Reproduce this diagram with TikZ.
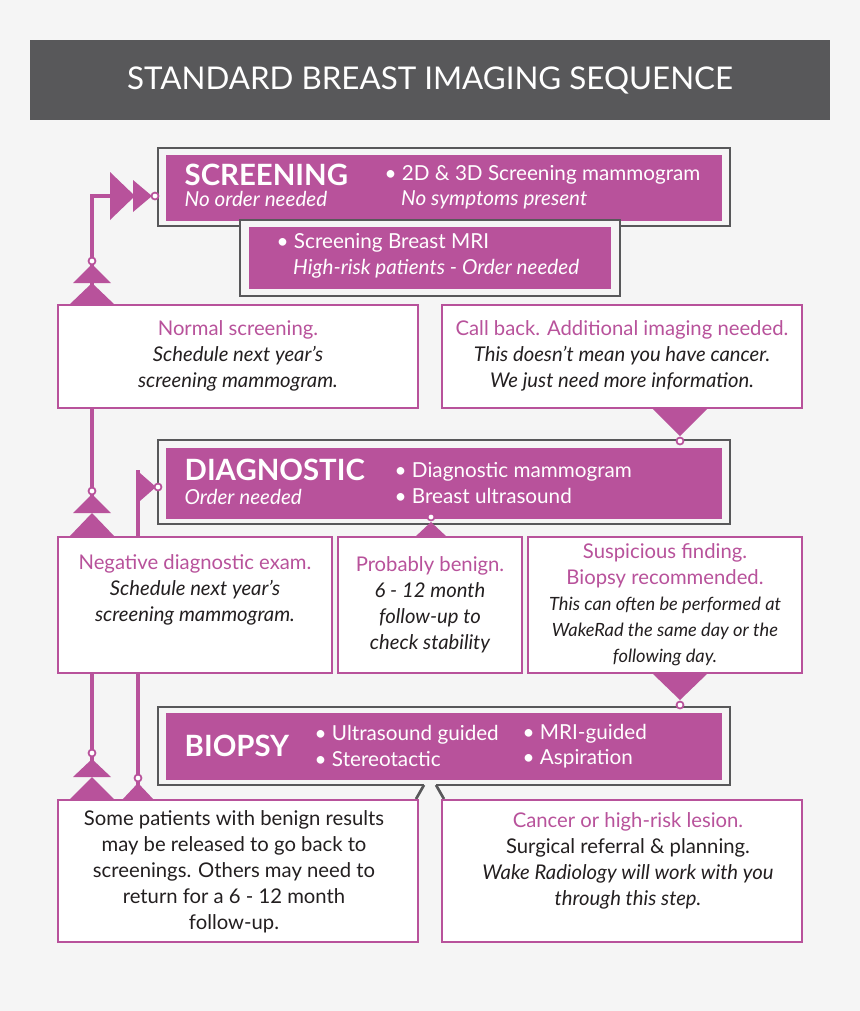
\documentclass[tikz,border=0pt]{standalone}
\usepackage{fontspec}
\setmainfont{Lato}
\definecolor{pur}{HTML}{B8529B}
\definecolor{dg}{HTML}{58585A}
\definecolor{bg}{HTML}{F5F5F5}
\definecolor{tx}{HTML}{231F20}
\begin{document}
\begin{tikzpicture}[x=0.75pt,y=-0.75pt,
  frame/.style={draw=dg,line width=2pt,fill=bg},
  inner/.style={fill=pur},
  wbox/.style={draw=pur,line width=1.6pt,fill=white},
  conn/.style={draw=pur,line width=3pt},
  tri/.style={fill=pur},
  dot/.style={draw=pur,line width=1.3pt,fill=white},
  wt/.style={text=white,font=\fontsize{15.5}{19}\selectfont,align=left,anchor=west},
  ht/.style={text=white,font=\fontsize{22}{24}\selectfont\bfseries,anchor=west},
  bt/.style={text=tx,font=\fontsize{15.2}{19.5}\selectfont,align=center},
  pt/.style={text=pur}]
\fill[bg] (0,0) rectangle (860,1011);
\useasboundingbox (0,0) rectangle (860,1011);
% title
\fill[dg] (30,40) rectangle (830,120);
\node[text=white,font=\fontsize{23.5}{26}\selectfont] (title) at (430,80) {STANDARD BREAST IMAGING SEQUENCE};
% screening
\draw[frame] (158,148) rectangle (730,226);
\fill[inner] (166,155) rectangle (722,221);
\draw[frame] (240,220) rectangle (620,296);
\fill[inner] (249,227) rectangle (611,289);
\node[ht] (scr) at (180,175) {SCREENING};
\node[wt] (scr2) at (180,199) {\itshape No order needed};
\node[wt] (scr3) at (380,187) {• 2D \& 3D Screening mammogram\\\hspace*{0.8em}\itshape No symptoms present};
\node[wt] (mri) at (272,256) {• Screening Breast MRI\\\hspace*{0.8em}\itshape High-risk patients - Order needed};
% row 1
\draw[wbox] (58,305) rectangle (418,408);
\node[bt] (norm) at (238,356) {\textcolor{pur}{Normal screening.}\\\itshape Schedule next year’s\\\itshape screening mammogram.};
\draw[wbox] (442,305) rectangle (802,408);
\node[bt] (call) at (622,356) {\textcolor{pur}{Call back. Additional imaging needed.}\\\itshape This doesn’t mean you have cancer.\\\itshape We just need more information.};
% diagnostic
\draw[frame] (158,440) rectangle (730,524);
\fill[inner] (166,448) rectangle (722,519);
\node[ht] (dia) at (180,470) {DIAGNOSTIC};
\node[wt] (dia2) at (180,497) {\itshape Order needed};
\node[wt] (dia3) at (390,483) {• Diagnostic mammogram\\• Breast ultrasound};
% row 2
\draw[wbox] (58,537) rectangle (332,673);
\node[bt] (neg) at (195,590) {\textcolor{pur}{Negative diagnostic exam.}\\\itshape Schedule next year’s\\\itshape screening mammogram.};
\draw[wbox] (338,537) rectangle (522,673);
\node[bt] (ben) at (430,605) {\textcolor{pur}{Probably benign.}\\\itshape 6 - 12 month\\\itshape follow-up to\\\itshape check stability};
\draw[wbox] (528,537) rectangle (802,673);
\node[bt] (sus) at (665,605) {\textcolor{pur}{Suspicious finding.}\\\textcolor{pur}{Biopsy recommended.}\\\fontsize{13.7}{26}\selectfont\itshape This can often be performed at\\\fontsize{13.7}{26}\selectfont\itshape WakeRad the same day or the\\\fontsize{13.7}{26}\selectfont\itshape following day.};
% biopsy
\draw[dg,line width=2pt,fill=bg] (424,785) -- (158,785) -- (158,707) -- (730,707) -- (730,785) -- (436,785);
\draw[dg,line width=2pt] (424,785) -- (416,799) (436,785) -- (444,799);
\fill[inner] (166,713) rectangle (722,780);
\node[ht] (bio) at (180,746) {BIOPSY};
\node[wt] (bio2) at (310,746) {• Ultrasound guided\\• Stereotactic};
\node[wt] (bio3) at (518,746) {• MRI-guided\\• Aspiration};
% row 3
\draw[wbox] (58,800) rectangle (418,942);
\node[bt] (rel) at (234,872) {Some patients with benign results\\may be released to go back to\\screenings. Others may need to\\return for a 6 - 12 month\\follow-up.};
\draw[wbox] (442,800) rectangle (802,942);
\node[bt] (can) at (628,861) {\textcolor{pur}{Cancer or high-risk lesion.}\\Surgical referral \& planning.\\\itshape Wake Radiology will work with you\\\itshape through this step.};
% connectors
\draw[conn] (92,300) -- (92,196) -- (140,196);
\fill[tri] (110,172) -- (135,196) -- (110,220) -- cycle;
\fill[tri] (133,180) -- (152,196) -- (133,212) -- cycle;
\draw[dot] (155,196) circle (3.5);
\fill[tri] (73,283) -- (92,264) -- (111,283) -- cycle;
\fill[tri] (69,305) -- (92,283) -- (115,305) -- cycle;
\draw[dot] (92,261) circle (3.5);
\draw[conn] (92,408) -- (92,500);
\fill[tri] (73,513) -- (92,494) -- (111,513) -- cycle;
\fill[tri] (69,537) -- (92,513) -- (115,537) -- cycle;
\draw[dot] (92,491) circle (3.5);
\draw[conn] (138,537) -- (138,470);
\fill[tri] (136.5,470) -- (156,487) -- (136.5,504) -- cycle;
\draw[dot] (158,487) circle (3.5);
\draw[conn] (92,673) -- (92,770);
\fill[tri] (73,777) -- (92,759) -- (111,777) -- cycle;
\fill[tri] (69,800) -- (92,777) -- (115,800) -- cycle;
\draw[dot] (92,753) circle (3.5);
\draw[conn] (138,673) -- (138,790);
\fill[tri] (122,800) -- (138,783) -- (154,800) -- cycle;
\draw[dot] (138,778) circle (3.5);
\fill[tri] (652,408) -- (708,408) -- (680,436) -- cycle;
\draw[dot] (680,441) circle (3.5);
\fill[tri] (652,673) -- (708,673) -- (680,700) -- cycle;
\draw[dot] (680,705) circle (3.5);
\fill[tri] (415,537) -- (447,537) -- (431,522) -- cycle;
\draw[dot] (431,517) circle (3.5);
\end{tikzpicture}
\end{document}
